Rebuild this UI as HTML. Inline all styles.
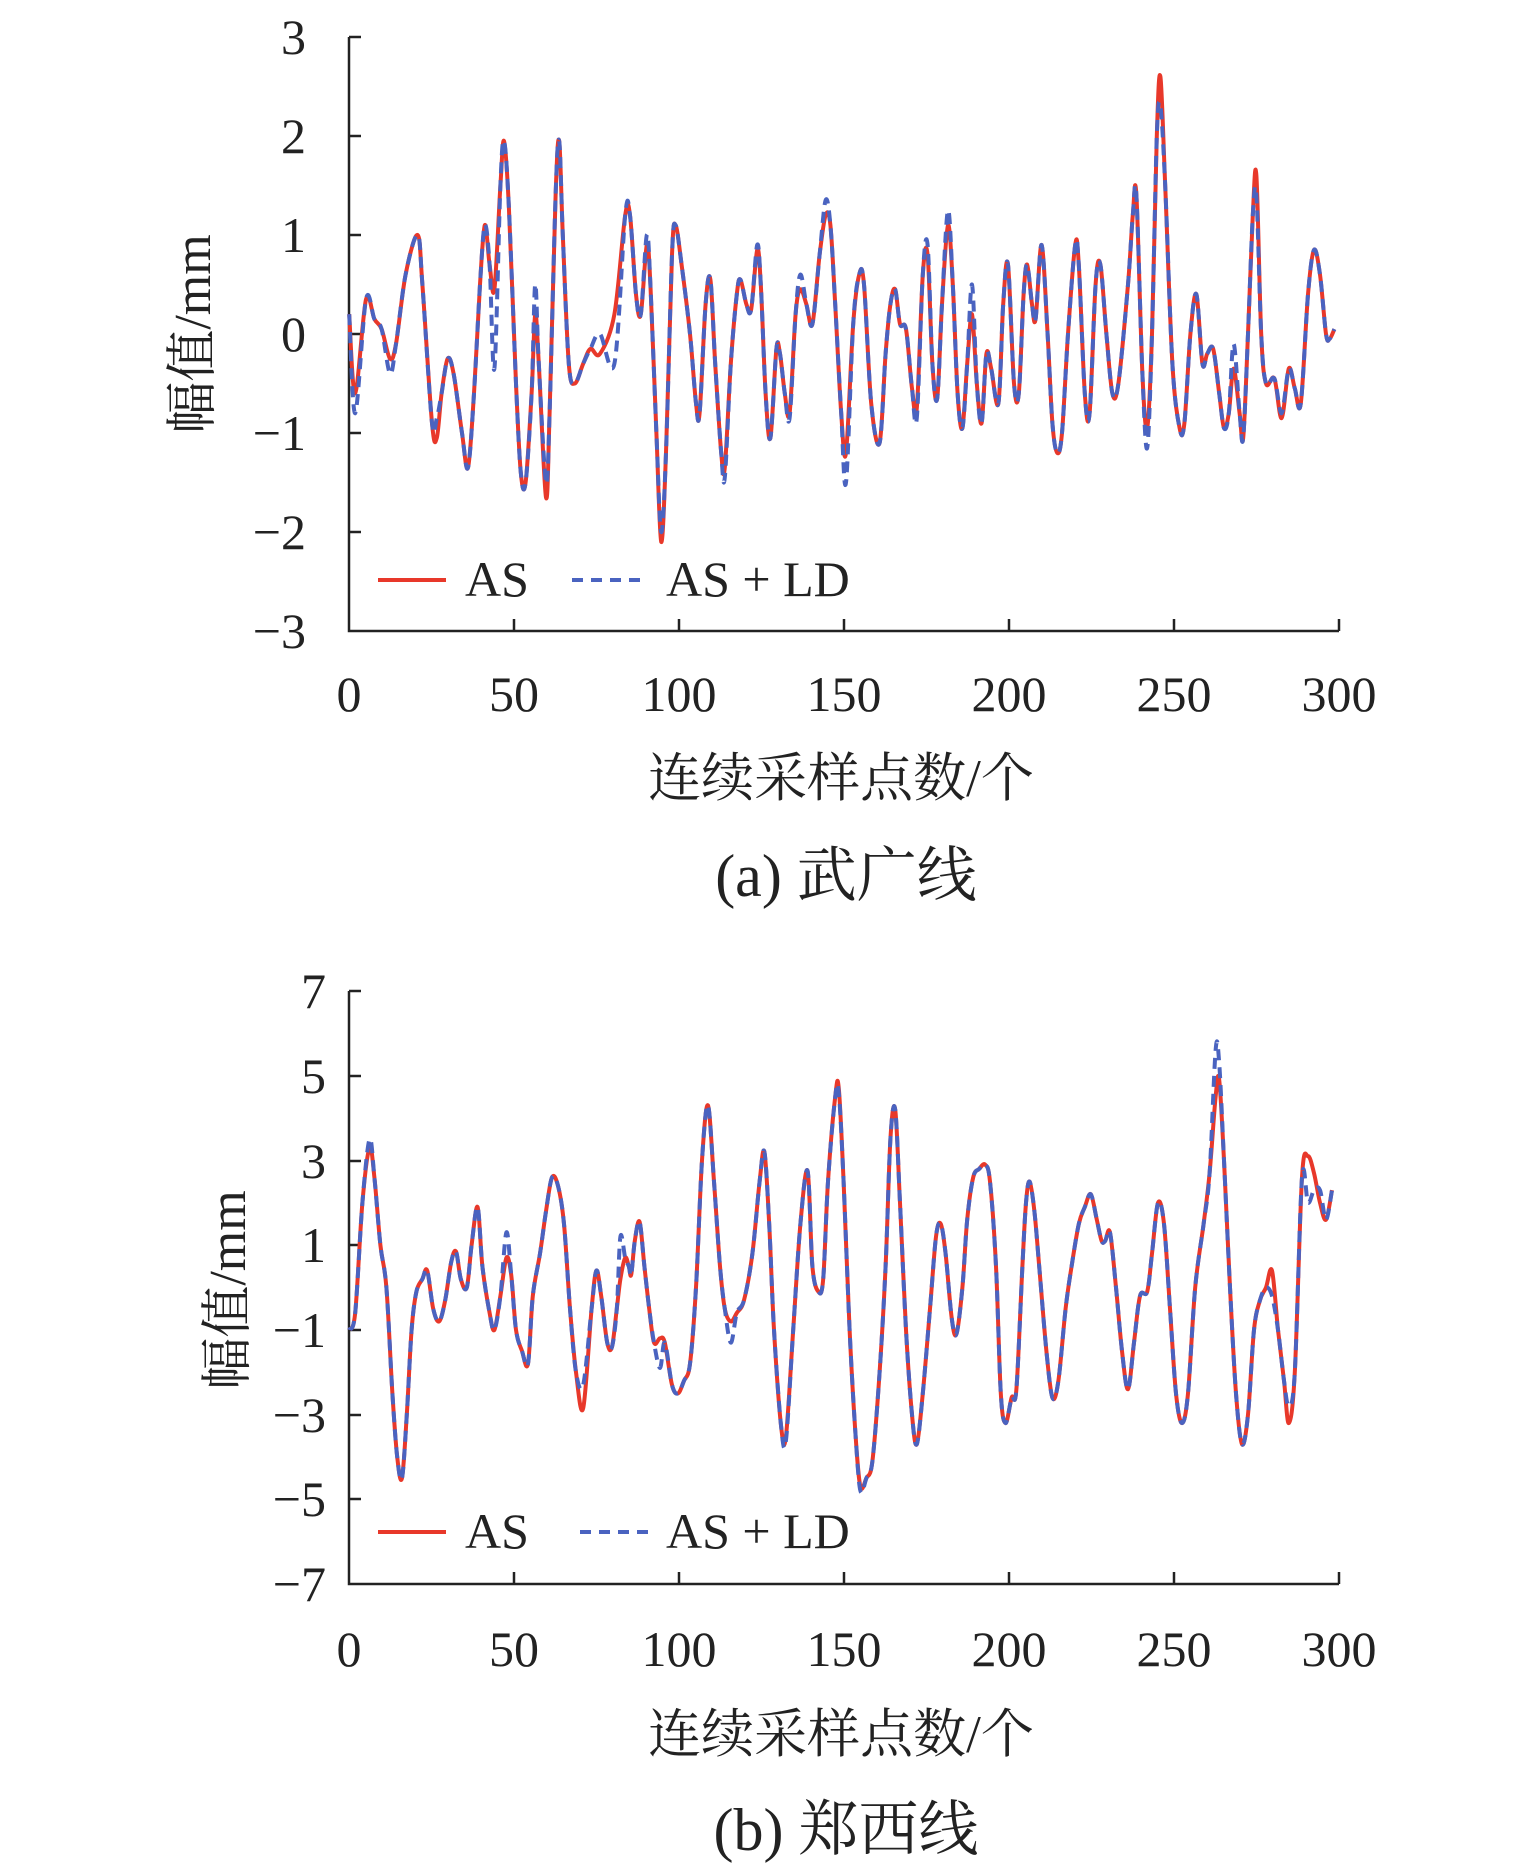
<!DOCTYPE html>
<html><head><meta charset="utf-8"><style>
html,body{margin:0;padding:0;background:#fff;}
svg{display:block;}
</style></head><body>
<svg id="s" width="1535" height="1870" xmlns="http://www.w3.org/2000/svg" font-family="'Liberation Serif','Noto Serif CJK SC',serif" fill="#222">
<!-- Chart A -->
<g stroke="#222" stroke-width="2.5" fill="none">
<path d="M349 37 V631 H1339"/>
<path d="M349 37h12M349 136h12M349 235h12M349 334h12M349 433h12M349 532h12"/>
<path d="M514 631v-12M679 631v-12M844 631v-12M1009 631v-12M1174 631v-12M1339 631v-12"/>
</g>
<g font-size="50" text-anchor="end">
<text x="306" y="54">3</text><text x="306" y="153">2</text><text x="306" y="252">1</text>
<text x="306" y="351">0</text><text x="306" y="450">−1</text><text x="306" y="549">−2</text><text x="306" y="648">−3</text>
</g>
<g font-size="50" text-anchor="middle">
<text x="349" y="711">0</text><text x="514" y="711">50</text><text x="679" y="711">100</text><text x="844" y="711">150</text><text x="1009" y="711">200</text><text x="1174" y="711">250</text><text x="1339" y="711">300</text>
</g>
<text font-size="52" text-anchor="middle" transform="translate(210,334) rotate(-90)">幅值/mm</text>
<text font-size="53" text-anchor="middle" x="841" y="796">连续采样点数/个</text>
<text font-size="60" text-anchor="middle" x="846" y="896">(a) 武广线</text>
<line x1="378" y1="580" x2="446" y2="580" stroke="#e8382a" stroke-width="4"/>
<text font-size="50" x="465" y="596">AS</text>
<line x1="572" y1="580" x2="642" y2="580" stroke="#4a63c0" stroke-width="4" stroke-dasharray="11,8"/>
<text font-size="50" x="666" y="596">AS + LD</text>

<!-- Chart B -->
<g stroke="#222" stroke-width="2.5" fill="none">
<path d="M349 991 V1584 H1339"/>
<path d="M349 991h12M349 1076h12M349 1161h12M349 1245h12M349 1330h12M349 1415h12M349 1499h12"/>
<path d="M514 1584v-12M679 1584v-12M844 1584v-12M1009 1584v-12M1174 1584v-12M1339 1584v-12"/>
</g>
<g font-size="50" text-anchor="end">
<text x="326" y="1008">7</text><text x="326" y="1093">5</text><text x="326" y="1178">3</text>
<text x="326" y="1262">1</text><text x="326" y="1347">−1</text><text x="326" y="1432">−3</text><text x="326" y="1516">−5</text><text x="326" y="1601">−7</text>
</g>
<g font-size="50" text-anchor="middle">
<text x="349" y="1666">0</text><text x="514" y="1666">50</text><text x="679" y="1666">100</text><text x="844" y="1666">150</text><text x="1009" y="1666">200</text><text x="1174" y="1666">250</text><text x="1339" y="1666">300</text>
</g>
<text font-size="52" text-anchor="middle" transform="translate(245,1290) rotate(-90)">幅值/mm</text>
<text font-size="53" text-anchor="middle" x="841" y="1752">连续采样点数/个</text>
<text font-size="60" text-anchor="middle" x="846" y="1850">(b) 郑西线</text>
<line x1="378" y1="1532" x2="446" y2="1532" stroke="#e8382a" stroke-width="4"/>
<text font-size="50" x="465" y="1548">AS</text>
<line x1="580" y1="1532" x2="648" y2="1532" stroke="#4a63c0" stroke-width="4" stroke-dasharray="11,8"/>
<text font-size="50" x="666" y="1548">AS + LD</text>
<g id="series"></g>
</svg>
<script>
var A=[291,0.2,296,-0.6,305,0.35,312,0.15,318,0.05,325,-0.25,330,-0.1,338,0.6,348,1.0,352,0.5,360,-0.9,364,-1.05,368,-0.6,373,-0.25,378,-0.4,385,-1.0,390,-1.35,395,-0.6,400,0.5,404,1.1,408,0.7,412,0.45,417,1.5,420,1.95,424,1.3,430,-0.5,434,-1.4,438,-1.5,443,-0.6,446,0.2,449,-0.3,455,-1.65,458,-0.8,463,1.4,466,1.95,469,1.0,474,-0.3,479,-0.5,486,-0.3,492,-0.15,500,-0.2,512,0.2,521,1.2,525,1.2,530,0.4,534,0.2,539,0.9,542,0.5,547,-1.0,551,-2.1,555,-1.2,560,0.8,563,1.1,568,0.7,575,0.0,580,-0.7,583,-0.8,588,0.3,592,0.55,596,-0.3,601,-1.2,604,-1.35,609,-0.3,614,0.4,617,0.55,622,0.3,626,0.25,631,0.85,634,0.5,638,-0.6,642,-1.05,647,-0.15,650,-0.2,654,-0.6,658,-0.8,663,0.2,667,0.45,672,0.3,677,0.1,683,0.8,688,1.2,692,1.1,696,0.3,701,-0.8,705,-1.2,711,0.1,716,0.6,720,0.5,726,-0.7,733,-1.1,738,-0.2,742,0.3,746,0.45,750,0.1,755,0.05,760,-0.55,764,-0.75,769,0.6,773,0.8,777,-0.3,781,-0.65,785,0.3,790,1.1,794,0.5,798,-0.6,802,-0.95,806,-0.3,810,0.2,814,-0.5,818,-0.9,822,-0.2,826,-0.35,832,-0.7,836,0.3,840,0.7,845,-0.5,849,-0.6,853,0.4,856,0.7,860,0.3,863,0.15,868,0.9,873,0.0,877,-0.9,881,-1.2,885,-1.0,890,0.0,896,0.9,899,0.7,904,-0.6,908,-0.8,913,0.5,917,0.7,922,0.0,927,-0.6,932,-0.5,940,0.5,944,1.2,947,1.4,952,-0.4,956,-0.95,960,0.0,964,2.0,967,2.6,971,1.5,977,-0.3,983,-0.95,987,-0.9,992,0.0,997,0.4,1002,-0.3,1006,-0.2,1011,-0.15,1016,-0.6,1020,-0.95,1024,-0.8,1028,-0.35,1033,-0.8,1036,-1.05,1040,0.0,1044,1.2,1047,1.6,1051,0.0,1055,-0.5,1062,-0.45,1068,-0.85,1074,-0.35,1079,-0.55,1084,-0.7,1090,0.4,1095,0.85,1100,0.6,1105,0.0,1108,-0.05,1112,0.05];
var Ab=[296,-0.8,325,-0.4,364,-0.85,412,-0.35,446,0.5,455,-1.5,500,0.0,512,-0.3,539,1.0,551,-2.0,604,-1.45,631,0.9,658,-0.85,667,0.6,688,1.35,705,-1.5,764,-0.85,773,0.9,790,1.25,810,0.5,956,-1.15,967,2.3,1028,-0.1,1047,1.4,1068,-0.8];
var B=[291,-1.0,296,-0.6,302,2.0,308,3.3,312,2.6,317,1.0,322,0.0,327,-2.5,331,-4.0,335,-4.5,339,-3.0,343,-1.0,347,-0.1,352,0.2,356,0.4,361,-0.5,366,-0.8,371,-0.3,376,0.6,380,0.85,384,0.2,389,0.0,393,1.0,398,1.9,402,0.5,408,-0.6,412,-1.0,417,-0.2,422,0.7,426,0.3,430,-1.0,435,-1.5,440,-1.8,444,-0.2,450,0.8,455,1.8,460,2.6,465,2.4,470,1.5,475,-0.5,480,-2.0,486,-2.85,493,-0.5,497,0.4,501,-0.2,506,-1.3,510,-1.4,514,-0.5,517,0.2,521,0.7,524,0.5,526,0.3,529,1.1,533,1.55,537,0.5,541,-0.5,545,-1.3,550,-1.2,554,-1.3,560,-2.3,565,-2.5,570,-2.2,575,-1.8,580,0.0,585,3.0,590,4.3,595,2.5,600,0.5,604,-0.5,609,-0.8,614,-0.6,620,-0.3,627,0.8,633,2.5,637,3.2,641,1.5,645,-1.0,651,-3.3,655,-3.5,661,-1.0,667,1.5,673,2.75,677,0.5,682,-0.1,686,0.2,690,2.5,696,4.5,699,4.7,703,2.5,708,-1.0,713,-3.5,717,-4.7,722,-4.5,727,-4.1,733,-2.0,738,0.5,742,3.5,746,4.2,750,2.0,755,-1.0,760,-3.0,764,-3.7,769,-2.5,775,-0.5,780,1.2,784,1.5,788,0.8,793,-0.7,797,-1.1,802,0.0,806,1.6,811,2.6,816,2.8,821,2.9,825,2.5,830,0.5,834,-2.5,838,-3.2,843,-2.6,847,-2.4,852,0.5,855,2.0,858,2.5,862,1.8,866,0.5,872,-1.5,877,-2.6,882,-2.2,888,-0.5,893,0.5,899,1.5,904,1.9,909,2.2,914,1.6,918,1.1,921,1.1,925,1.3,930,0.0,935,-1.5,940,-2.4,945,-1.3,950,-0.2,956,-0.1,960,0.8,965,2.0,970,1.5,975,-0.5,980,-2.5,985,-3.2,990,-2.5,996,0.0,1003,1.5,1008,2.7,1013,4.5,1016,4.9,1020,3.0,1025,0.0,1030,-2.5,1035,-3.7,1040,-3.0,1045,-1.0,1050,-0.3,1055,0.0,1060,0.4,1065,-1.0,1070,-2.2,1074,-3.2,1079,-2.0,1085,2.6,1090,3.1,1095,2.7,1100,2.0,1105,1.6,1110,2.3];
var Bb=[308,3.5,422,1.3,486,-2.3,517,1.2,550,-1.9,609,-1.3,655,-3.6,699,4.6,717,-4.8,1013,5.6,1016,5.3,1060,-0.2,1074,-2.8,1090,2.0,1095,2.3,1100,2.3];
function pts(arr,ov,y0,k){var p=[];for(var i=0;i<arr.length;i+=2)p.push([arr[i],arr[i+1]]);
 if(ov){for(var j=0;j<ov.length;j+=2){var bx=ov[j],best=-1,bd=99;for(var i=0;i<p.length;i++){var d=Math.abs(p[i][0]-bx);if(d<bd){bd=d;best=i;}}if(bd<=3)p[best]=[bx,ov[j+1]];else p.push([bx,ov[j+1]]);}p.sort(function(a,b){return a[0]-b[0];});}
 return p.map(function(q){return [q[0]*1.2,y0-k*q[1]];});}
function path(p){var d="M"+p[0][0].toFixed(1)+" "+p[0][1].toFixed(1);
 for(var i=0;i<p.length-1;i++){var p0=p[i>0?i-1:i],p1=p[i],p2=p[i+1],p3=p[i+2<p.length?i+2:i+1];
 var c1=[p1[0]+(p2[0]-p0[0])/6,p1[1]+(p2[1]-p0[1])/6],c2=[p2[0]-(p3[0]-p1[0])/6,p2[1]-(p3[1]-p1[1])/6];
 d+=" C"+c1[0].toFixed(1)+" "+c1[1].toFixed(1)+" "+c2[0].toFixed(1)+" "+c2[1].toFixed(1)+" "+p2[0].toFixed(1)+" "+p2[1].toFixed(1);}
 return d;}
var g=document.getElementById("series"),ns="http://www.w3.org/2000/svg";
function add(d,col,dash){var e=document.createElementNS(ns,"path");e.setAttribute("d",d);e.setAttribute("fill","none");e.setAttribute("stroke",col);e.setAttribute("stroke-width","4");e.setAttribute("stroke-linejoin","round");if(dash)e.setAttribute("stroke-dasharray","11,7");g.appendChild(e);}
add(path(pts(A,null,334,99)),"#e8382a");
add(path(pts(A,Ab,334,99)),"#4a63c0",1);
add(path(pts(B,null,1287.5,42.36)),"#e8382a");
add(path(pts(B,Bb,1287.5,42.36)),"#4a63c0",1);
</script>
</body></html>
